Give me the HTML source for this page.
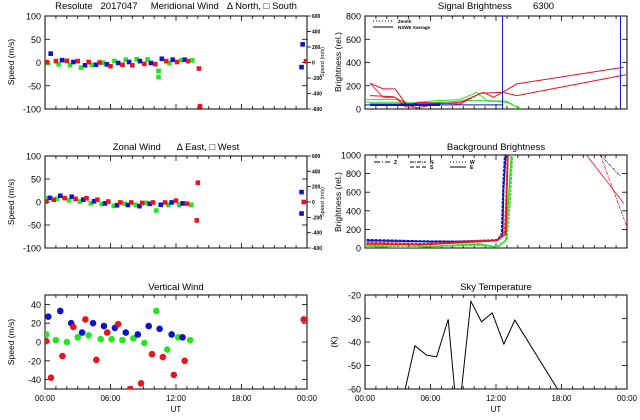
<!DOCTYPE html>
<html><head><meta charset="utf-8"><style>
html,body{margin:0;padding:0;background:#fff}
svg{display:block;font-family:"Liberation Sans",sans-serif}
text{fill:#000;white-space:pre}
</style></head><body>
<svg id="chart" width="640" height="420" viewBox="0 0 640 420" xmlns="http://www.w3.org/2000/svg" xml:space="preserve">
<rect width="640" height="420" fill="#fff"/>
</svg>
<script>
// ---- Meridional wind ----
const merBlueT=[0.52,1.56,2.6,3.67,4.68,5.66,6.7,7.7,8.7,9.7,10.7,11.7,12.8,23.6,23.5];
const merBlueV=[19,5,1,-6,-5,-4,-1,1,3,-1,8,6,6,39,-10];
const merRedT=[0.15,1,2,3,4,5,6,7.1,8,9.1,10.1,11.1,12.1,13.1,14.1,14.2,23.9];
const merRedV=[1,3,3.5,3,1,0,-8,-5,-6,-3,-3.5,3,1,3,-13,-94,3];
const merGreenT=[0.3,1.25,2.3,3.3,4.3,5.35,6.36,7.4,8.4,9.4,10.4,10.4,11.4,12.5,13.5];
const merGreenV=[-1,-4,-6,-11,-5,-0.5,3.5,6,7,6.5,-18,-31,-1,5,4.5];
// ---- Zonal wind ----
const zonBlueT=[0.46,1.4,2.45,3.5,4.5,5.5,6.6,7.6,8.65,9.6,10.6,11.6,12.6,23.5,23.5];
const zonBlueV=[9,13.5,11.5,5,1.5,-3,-7,-6.5,-9,-4,-6,-1,-3,21.5,-25];
const zonRedT=[0.1,0.8,1.8,2.8,3.8,4.8,5.8,6.9,7.9,8.9,9.9,11,12,13,14,13.9,23.7];
const zonRedV=[1,5,8.5,7,8,5,1,-1,-1,-2,-1,-1,3,-3.5,42,-40,0];
const zonGreenT=[0.2,1.1,2.2,3.2,4.2,5.2,6.3,7.3,8.3,9.3,10.2,11.3,12.3,13.4];
const zonGreenV=[8,7,3.5,1,-3,-4.5,-8.5,-4,-6,-2,-18.5,-6,-6,-6];
// ---- Vertical wind ----
const verBlueT=[0.3,1.4,2.4,3.4,4.4,5.4,6.4,7.4,8.5,9.5,10.5,11.6,12.6];
const verBlueV=[27,33,20,10,20,17,15,10,8,17,14,8,5];
const verRedT=[0.1,0.55,1.6,2.6,3.7,4.7,5.7,6.7,7.8,8.8,9.8,10.8,11.8,12.8,23.7];
const verRedV=[1,-38,-15,16,24,-19,10,19,-50,-44,-13,-16,-35,-20,24];
const verGreenT=[0.1,1.0,2.0,3.0,4.0,5.1,6.1,7.1,8.1,9.1,10.2,11.2,12.2,13.3];
const verGreenV=[8,2,0,5,7,3,3,2,4,-1,33,-8,5,2];
// ---- Sky temperature ----
const skyT=[3.2,4.57,5.64,6.56,7.62,8.5,9.7,10.67,11.65,12.72,13.72,17.63,19];
const skyV=[-70,-41.6,-45.6,-46.3,-30.4,-75,-22.7,-31.4,-27.6,-40.9,-30.7,-60,-70.3];
// ---- Signal brightness ----
const sigRed1T=[0.46,1.68,2.75,3.82,5.04,8.71,10.55,12.6,13.91,23.7];
const sigRed1V=[222,173,173,35,58,43,135,144,216,360];
const sigRed2T=[0.46,2.6,3.82,4.74,6.57,8.71,10.85,11.77,12.6,13.91,23.9];
const sigRed2V=[115,106,43,9,43,58,144,101,144,115,294];
const sigRed3T=[0.46,1.68,2.75,3.67,4.74];
const sigRed3V=[222,101,101,20,14];
const sigGreen1T=[0,2.9,4.13,6.57,8.71,10.24,11.16,12.99,14.22];
const sigGreen1V=[81,81,52,72,81,144,72,66,0];
const sigGreen2T=[0,2.9,4.43,9.32,10.55,12.99,13.91,14.37];
const sigGreen2V=[58,58,43,72,72,58,20,0];
const sigBlueT=[0,12.6];
const sigBlueV=[35,35];
const sigBlueThickT=[0.46,6.88];
const sigBlueThickV=[37,37];
const sigMarkerT=[12.6,23.4];
// ---- Background brightness ----
const bgBlueT=[0.15,5.2,8.3,12.1,12.6,12.7,12.9];
const bgBlueV=[80,69,69,80,135,625,1000];
const bgBlue2T=[0.15,5.2,8.3,12.1,12.5,12.65,12.8];
const bgBlue2V=[90,75,72,85,150,700,1000];
const bgRedT=[0.15,5.2,12.1,12.9,13.0,13.1];
const bgRedV=[44,36,80,153,625,1000];
const bgRed2T=[0.15,5.2,12.1,12.8,12.95,13.05];
const bgRed2V=[60,45,90,170,650,1000];
const bgGreenT=[0,3.5,10.5,12.1,12.9,13.1,13.4];
const bgGreenV=[25,0,44,7,80,444,1000];
const bgGreen2T=[0,3.5,10.5,12.1,13.0,13.3,13.5];
const bgGreen2V=[40,12,30,15,90,500,1000];
const bgLateRedT=[20.3,23.7];
const bgLateRedV=[1000,480];
const bgLateRed2T=[21.55,24];
const bgLateRed2V=[1000,225];
const bgLateBlueT=[21.55,23.4];
const bgLateBlueV=[1000,771];

const NS="http://www.w3.org/2000/svg";
const svg=document.getElementById('chart');
function mk(tag,attrs,parent){const e=document.createElementNS(NS,tag);for(const k in attrs)e.setAttribute(k,attrs[k]);(parent||svg).appendChild(e);return e;}
const RED="#e8141e",GREEN="#22e61e",BLUE="#0a14c8";

function panel(x0,x1,y0,y1,ymin,ymax){
  return {x0,x1,y0,y1,ymin,ymax,
    sx:t=>x0+(t/24)*(x1-x0),
    sy:v=>y1-(v-ymin)/(ymax-ymin)*(y1-y0)};
}
const P1=panel(45,307,16,109,-100,100);
const P2=panel(365,627,16,109,0,800);
const P3=panel(45,307,156,248,-100,100);
const P4=panel(365,627,155,248,0,1000);
const P5=panel(45,307,295,389,-50,50);
const P6=panel(365,627,295,389,-60,-20);

function frame(P,name,ticks,labels,xlabels){
  const g=mk('g',{});
  
  
  const cid='clip-'+name;
  const cp=mk('clipPath',{id:cid},g);
  mk('rect',{x:P.x0,y:P.y0,width:P.x1-P.x0,height:P.y1-P.y0},cp);
  mk('rect',{x:P.x0,y:P.y0,width:P.x1-P.x0,height:P.y1-P.y0,fill:'none',stroke:'#000','stroke-width':1},g);
  for(let h=0;h<=24;h++){
    const x=P.sx(h), L=(h%6==0)?5:3;
    mk('line',{x1:x,x2:x,y1:P.y1,y2:P.y1-L,stroke:'#000','stroke-width':0.8},g);
    mk('line',{x1:x,x2:x,y1:P.y0,y2:P.y0+L,stroke:'#000','stroke-width':0.8},g);
  }
  ticks.forEach((v,i)=>{
    const y=P.sy(v);
    mk('line',{x1:P.x0,x2:P.x0+5,y1:y,y2:y,stroke:'#000','stroke-width':0.8},g);
    mk('line',{x1:P.x1,x2:P.x1-5,y1:y,y2:y,stroke:'#000','stroke-width':0.8},g);
    const t=mk('text',{x:P.x0-4,y:y+3.5,'font-size':9,'text-anchor':'end'},g);
    t.textContent=labels[i];
  });
  if(xlabels){
    ['00:00','06:00','12:00','18:00','00:00'].forEach((s,i)=>{
      const t=mk('text',{x:P.sx(i*6),y:P.y1+12,'font-size':8,'text-anchor':'middle'},g);
      t.textContent=s;
    });
    const u=mk('text',{x:(P.x0+P.x1)/2,y:P.y1+23,'font-size':8,'text-anchor':'middle'},g);
    u.textContent='UT';
  }
  return 'url(#'+cid+')';
}
function title(x,y,s,name){
  const t=mk('text',{x:x,y:y,'font-size':9.5,'text-anchor':'middle'});
  
  
  t.textContent=s;
}
function ylab(x,y,s,name,fs){
  const t=mk('text',{x:0,y:0,'font-size':fs||8.5,'text-anchor':'middle',transform:`translate(${x},${y}) rotate(-90)`});
  
  
  t.textContent=s;
}
function rightAxis(P,name){
  const g=mk('g',{});
  
  
  ['600','400','200','0','-200','-400','-600'].forEach((s,i)=>{
    const y=P.y0+i*(P.y1-P.y0)/6;
    mk('line',{x1:P.x1,x2:P.x1+4,y1:y,y2:y,stroke:'#000','stroke-width':0.8},g);
    const t=mk('text',{x:P.x1+5,y:y+2,'font-size':5,'font-weight':'bold'},g);
    t.textContent=s;
  });
}
function points(P,clip,T,V,color,shape,name){
  const g=mk('g',{'clip-path':clip});
  
  
  T.forEach((t,i)=>{
    const x=P.sx(t),y=P.sy(V[i]);
    let e;
    if(shape==='circle'){e=mk('circle',{cx:x,cy:y,r:3.3,fill:color},g);}
    else {e=mk('rect',{x:x-2.3,y:y-2.3,width:4.6,height:4.6,fill:color},g);}
    
    
  });
}
function line(P,clip,T,V,color,name,w,dash){
  const d=T.map((t,i)=>(i?'L':'M')+P.sx(t).toFixed(1)+','+P.sy(V[i]).toFixed(1)).join('');
  const e=mk('path',{d:d,fill:'none',stroke:color,'stroke-width':w||1,'clip-path':clip,'stroke-dasharray':dash||'none'});
  
  
}

// Panel 1
const c1=frame(P1,'meridional',[100,50,0,-50,-100],['100','50','0','-50','-100'],false);
rightAxis(P1,'meridional-right-axis');
title(176,9,'Resolute   2017047     Meridional Wind   \u0394 North, \u25A1 South','meridional-title');
ylab(14,62,'Speed (m/s)','meridional-y-axis-title');
points(P1,c1,merGreenT,merGreenV,GREEN,'sq','meridional-green');
points(P1,c1,merBlueT,merBlueV,BLUE,'sq','meridional-blue');
points(P1,c1,merRedT,merRedV,RED,'sq','meridional-red');

// Panel 2
const c2=frame(P2,'signal',[0,200,400,600,800],['0','200','400','600','800'],false);
title(496,9,'Signal Brightness        6300','signal-title');
ylab(341,62,'Brightness (rel.)','signal-y-axis-title');
ylab(324,62,'Speed (m/s)','meridional-right-axis-title',5.5);
line(P2,c2,sigGreen1T,sigGreen1V,GREEN,'signal-green-1',1);
line(P2,c2,sigGreen2T,sigGreen2V,GREEN,'signal-green-2',1);
line(P2,c2,sigRed1T,sigRed1V,RED,'signal-red-1',1);
line(P2,c2,sigRed2T,sigRed2V,RED,'signal-red-2',1);
line(P2,c2,sigRed3T,sigRed3V,RED,'signal-red-3',0.8);
line(P2,c2,sigBlueT,sigBlueV,BLUE,'signal-blue',1);
line(P2,c2,sigBlueThickT,sigBlueThickV,BLUE,'signal-blue-thick',2.5);
sigMarkerT.forEach((t,i)=>{
  const x=P2.sx(t);
  const e=mk('line',{x1:x,x2:x,y1:P2.y0,y2:P2.y1,stroke:BLUE,'stroke-width':1});
  
  
});
(function(){
  const g=mk('g',{});
  
  
  mk('line',{x1:373,x2:393,y1:21,y2:21,stroke:'#000','stroke-dasharray':'1,2'},g);
  mk('line',{x1:373,x2:393,y1:27,y2:27,stroke:'#000'},g);
  const a=mk('text',{x:398,y:23,'font-size':4.5,'font-weight':'bold'},g);a.textContent='Zenith';
  const b=mk('text',{x:398,y:29,'font-size':4.5,'font-weight':'bold'},g);b.textContent='NSWE Average';
})();

// Panel 3
const c3=frame(P3,'zonal',[100,50,0,-50,-100],['100','50','0','-50','-100'],false);
rightAxis(P3,'zonal-right-axis');
title(176,150,'Zonal Wind      \u0394 East, \u25A1 West','zonal-title');
ylab(14,202,'Speed (m/s)','zonal-y-axis-title');
ylab(324,202,'Speed (m/s)','zonal-right-axis-title',5.5);
points(P3,c3,zonGreenT,zonGreenV,GREEN,'sq','zonal-green');
points(P3,c3,zonBlueT,zonBlueV,BLUE,'sq','zonal-blue');
points(P3,c3,zonRedT,zonRedV,RED,'sq','zonal-red');

// Panel 4
const c4=frame(P4,'background',[0,200,400,600,800,1000],['0','200','400','600','800','1000'],false);
title(496,150,'Background Brightness','background-title');
ylab(341,202,'Brightness (rel.)','background-y-axis-title');
line(P4,c4,bgGreenT,bgGreenV,GREEN,'background-green-1',1.5);
line(P4,c4,bgGreen2T,bgGreen2V,GREEN,'background-green-2',1.5,'3,1');
line(P4,c4,bgBlueT,bgBlueV,BLUE,'background-blue-1',1.5);
line(P4,c4,bgBlue2T,bgBlue2V,BLUE,'background-blue-2',1.5,'3,1');
line(P4,c4,bgRedT,bgRedV,RED,'background-red-1',1.5);
line(P4,c4,bgRed2T,bgRed2V,RED,'background-red-2',1.5,'3,1');
line(P4,c4,bgLateRedT,bgLateRedV,RED,'background-late-red-1',0.8);
line(P4,c4,bgLateRed2T,bgLateRed2V,RED,'background-late-red-2',0.8,'3,1,1,1');
line(P4,c4,bgLateBlueT,bgLateBlueV,BLUE,'background-late-blue',0.8,'3,1,1,1');
(function(){
  const g=mk('g',{});
  
  
  const items=[[374,162,'Z','6,2,1,2'],[410,162,'N','4,1,1,1'],[410,167,'S','4,2'],[450,162,'W','1,2'],[450,167,'E','none']];
  items.forEach(it=>{
    mk('line',{x1:it[0],x2:it[0]+16,y1:it[1],y2:it[1],stroke:'#000','stroke-dasharray':it[3]},g);
    const t=mk('text',{x:it[0]+20,y:it[1]+2,'font-size':5,'font-weight':'bold'},g);t.textContent=it[2];
  });
})();

// Panel 5
const c5=frame(P5,'vertical',[40,20,0,-20,-40],['40','20','0','-20','-40'],true);
title(176,290,'Vertical Wind','vertical-title');
ylab(14,342,'Speed (m/s)','vertical-y-axis-title');
points(P5,c5,verGreenT,verGreenV,GREEN,'circle','vertical-green');
points(P5,c5,verBlueT,verBlueV,BLUE,'circle','vertical-blue');
points(P5,c5,verRedT,verRedV,RED,'circle','vertical-red');

// Panel 6
const c6=frame(P6,'sky-temperature',[-20,-30,-40,-50,-60],['-20','-30','-40','-50','-60'],true);
title(496,290,'Sky Temperature','sky-temperature-title');
ylab(337,342,'(K)','sky-temperature-y-axis-title');
line(P6,c6,skyT,skyV,'#000','sky-temperature-line',1);
</script>
</body></html>
